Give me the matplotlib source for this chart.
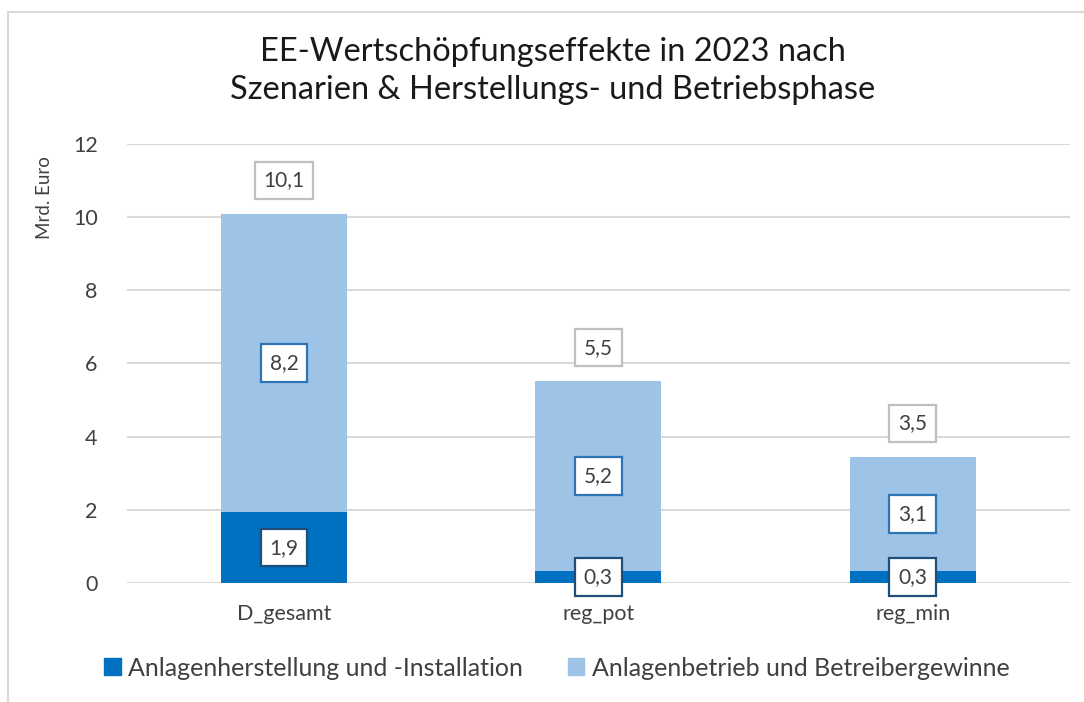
import matplotlib
matplotlib.use("Agg")
import matplotlib.pyplot as plt
from matplotlib.patches import Rectangle, Patch

# ---- data ----
categories = ["D_gesamt", "reg_pot", "reg_min"]
installation = [1.93, 0.32, 0.32]      # Anlagenherstellung und -Installation
operation = [8.16, 5.20, 3.13]         # Anlagenbetrieb und Betreibergewinne
totals = [10.1, 5.5, 3.5]              # printed totals
series_names = ["Anlagenherstellung und -Installation",
                "Anlagenbetrieb und Betreibergewinne"]
title = "EE-Wertschöpfungseffekte in 2023 nach\nSzenarien & Herstellungs- und Betriebsphase"
ylabel = "Mrd. Euro"
yticks = [0, 2, 4, 6, 8, 10, 12]

# ---- style ----
dark_blue = "#0070C0"
light_blue = "#9DC3E6"
text_col = "#404040"
grid_col = "#D9D9D9"
plt.rcParams["font.family"] = ["Lato", "DejaVu Sans"]

def fmt(v):
    return f"{v:.1f}".replace(".", ",")

fig = plt.figure(figsize=(10.84, 7.02), dpi=100)
ax = fig.add_axes([0.117, 0.1695, 0.87, 0.6254])

x = list(range(len(categories)))
w = 0.4
ax.bar(x, installation, width=w, color=dark_blue, zorder=2, label=series_names[0])
ax.bar(x, operation, width=w, bottom=installation, color=light_blue, zorder=2,
       label=series_names[1])

lab_fs = 15
for i in x:
    b = installation[i]
    t = operation[i]
    ax.text(i, b / 2, fmt(b), ha="center", va="center", fontsize=lab_fs, color=text_col,
            zorder=5,
            bbox=dict(boxstyle="square,pad=0.42", fc="white", ec="#1F4E79", lw=1.6))
    ax.text(i, b + t / 2, fmt(t), ha="center", va="center", fontsize=lab_fs, color=text_col,
            zorder=5,
            bbox=dict(boxstyle="square,pad=0.42", fc="white", ec="#2E75B6", lw=1.6))
    ax.annotate(fmt(totals[i]), xy=(i, b + t), xytext=(0, 24), textcoords="offset points",
                ha="center", va="center", fontsize=lab_fs, color=text_col, zorder=5,
                bbox=dict(boxstyle="square,pad=0.42", fc="white", ec="#BFBFBF", lw=1.6))

ax.set_xlim(-0.5, 2.5)
ax.set_ylim(0, 12)
ax.set_yticks(yticks)
ax.set_yticklabels([str(v) for v in yticks])
ax.set_xticks(x)
ax.set_xticklabels(categories)
ax.tick_params(axis="both", length=0, labelsize=15.5, colors=text_col)
ax.tick_params(axis="y", pad=21)
ax.tick_params(axis="x", pad=15)
ax.yaxis.grid(True, color=grid_col, lw=1.5, zorder=0)
ax.set_axisbelow(True)
for s in ax.spines.values():
    s.set_visible(False)

fig.text(0.0415, 0.719, ylabel, rotation=90, ha="center", va="center",
         fontsize=13.5, color=text_col)
fig.text(553 / 1084, 0.899, title, ha="center", va="center", fontsize=23.5,
         color="#1A1A1A", linespacing=1.35)

handles = [Patch(color=dark_blue), Patch(color=light_blue)]
fig.legend(handles, series_names, loc="center", bbox_to_anchor=(557 / 1084, 1 - 668 / 702),
           ncol=2, frameon=False, fontsize=18, labelcolor=text_col,
           handlelength=0.65, handleheight=0.65, handletextpad=0.3, columnspacing=1.8)

fig.patches.append(Rectangle((8 / 1084, -0.05), 1.2, 1.05 - 12 / 702,
                             transform=fig.transFigure, fill=False, ec=grid_col, lw=1.5))

fig.savefig("out.png", dpi=100, facecolor="white")
